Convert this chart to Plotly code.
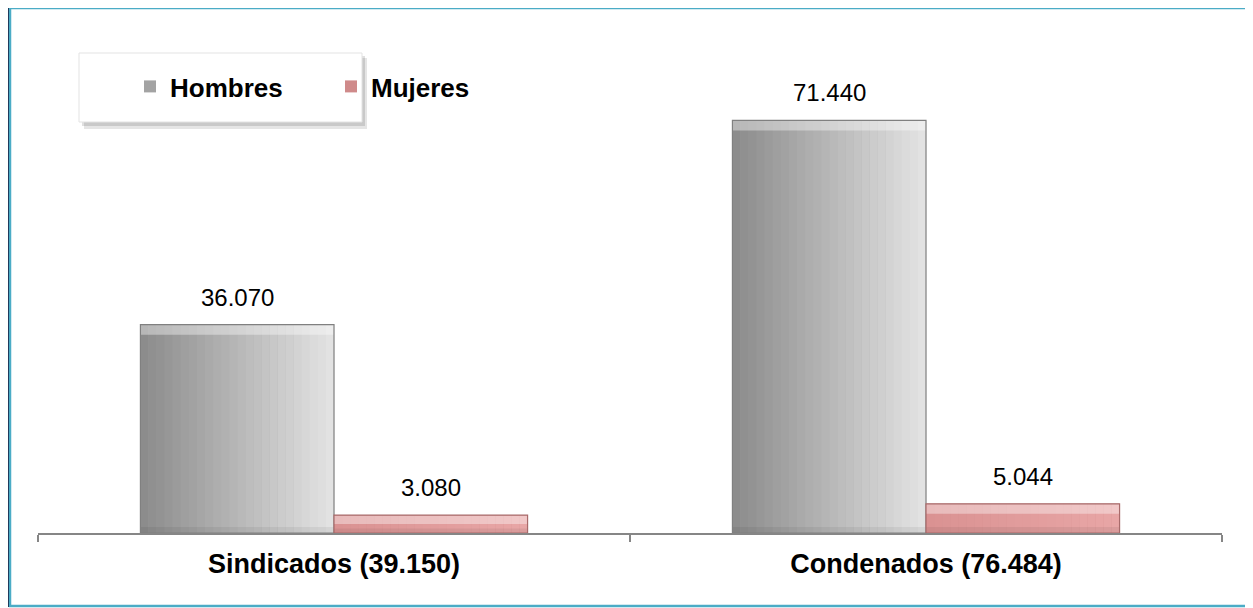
import plotly.graph_objects as go

categories = ["Sindicados (39.150)", "Condenados (76.484)"]
series_names = ["Hombres", "Mujeres"]
hombres = [36070, 71440]
mujeres = [3080, 5044]

# page body has an 8px margin: work in reference-pixel coordinates and shift
OFF = 8
W = 1253 - OFF
H = 608 - OFF
ML, MR, MT, MB = 38 - OFF, 31, 71 - OFF, 75
PW = W - ML - MR
PH = H - MT - MB
Y_MAX = 80000

BAR_W = 0.327
N_STRIPS = 24
FONT = "Arial, Liberation Sans, sans-serif"


def px_x(p):
    # p given in reference pixel coordinates
    return (p - OFF - ML) / PW


def px_y(p):
    return (H - MB - (p - OFF)) / PH


def px_to_units(n):
    return n / PH * Y_MAX


def lerp_color(c1, c2, t):
    a = [int(c1[i:i + 2], 16) for i in (1, 3, 5)]
    b = [int(c2[i:i + 2], 16) for i in (1, 3, 5)]
    c = [round(a[k] + (b[k] - a[k]) * t) for k in range(3)]
    return "rgb(%d,%d,%d)" % tuple(c)


def fmt(v):
    return f"{v:,}".replace(",", ".")


styles = [
    dict(name=series_names[0], values=hombres, base_off=-BAR_W, c_left="#8C8C8C", c_right="#E2E2E2",
         legend="#A3A3A3", outline="#808080"),
    dict(name=series_names[1], values=mujeres, base_off=0.0, c_left="#DA9292", c_right="#E8A6A6",
         legend="#CF8A8A", outline="#A86A6A"),
]

fig = go.Figure()

for s in styles:
    # full bar (legend + hover)
    fig.add_trace(go.Bar(
        x=categories, y=s["values"], name=s["name"],
        offset=s["base_off"], width=BAR_W,
        marker=dict(color=s["legend"], line=dict(width=0)),
        showlegend=True,
        hovertemplate="%{x}<br>" + s["name"] + ": %{y:,}<extra></extra>",
    ))
    # gradient strips
    sw = BAR_W / N_STRIPS
    for k in range(N_STRIPS):
        t = k / (N_STRIPS - 1)
        fig.add_trace(go.Bar(
            x=categories, y=s["values"], name=s["name"],
            offset=s["base_off"] + k * sw, width=sw * 1.03,
            marker=dict(color=lerp_color(s["c_left"], s["c_right"], t), line=dict(width=0)),
            showlegend=False, hoverinfo="skip",
        ))
    # bevel: light top band, darker bottom band
    band = px_to_units(10)
    top_h = [min(band, v / 2) for v in s["values"]]
    fig.add_trace(go.Bar(
        x=categories, y=top_h, base=[v - h for v, h in zip(s["values"], top_h)], name=s["name"],
        offset=s["base_off"], width=BAR_W,
        marker=dict(color="rgba(255,255,255,0.38)", line=dict(width=0)),
        showlegend=False, hoverinfo="skip",
    ))
    bot_h = [min(px_to_units(6), v / 4) for v in s["values"]]
    fig.add_trace(go.Bar(
        x=categories, y=bot_h, name=s["name"],
        offset=s["base_off"], width=BAR_W,
        marker=dict(color="rgba(0,0,0,0.06)", line=dict(width=0)),
        showlegend=False, hoverinfo="skip",
    ))
    # outline
    fig.add_trace(go.Bar(
        x=categories, y=s["values"], name=s["name"],
        offset=s["base_off"], width=BAR_W,
        marker=dict(color="rgba(0,0,0,0)", line=dict(width=1.2, color=s["outline"])),
        showlegend=False, hoverinfo="skip",
    ))

annotations = []
for s in styles:
    for i, v in enumerate(s["values"]):
        annotations.append(dict(
            x=i + s["base_off"] + BAR_W / 2, y=v, xref="x", yref="y",
            text=fmt(v), showarrow=False, yanchor="bottom", yshift=12,
            font=dict(family=FONT, size=24, color="#000000"),
        ))

shapes = [
    # legend shadow
    dict(type="rect", xref="paper", yref="paper",
         x0=px_x(84), x1=px_x(367), y0=px_y(129), y1=px_y(58),
         fillcolor="rgba(0,0,0,0.10)", line=dict(width=0), layer="above"),
    dict(type="rect", xref="paper", yref="paper",
         x0=px_x(82), x1=px_x(365), y0=px_y(126), y1=px_y(56),
         fillcolor="rgba(0,0,0,0.12)", line=dict(width=0), layer="above"),
    # legend box
    dict(type="rect", xref="paper", yref="paper",
         x0=px_x(79), x1=px_x(362), y0=px_y(122), y1=px_y(53),
         fillcolor="#FFFFFF", line=dict(width=1, color="#E3E3E3"), layer="above"),
    # outer border
    dict(type="rect", xref="paper", yref="paper",
         x0=px_x(10), x1=px_x(1250), y0=px_y(606), y1=px_y(8),
         fillcolor="rgba(0,0,0,0)", line=dict(width=2.5, color="#4BACC6"), layer="above"),
    dict(type="line", xref="paper", yref="paper",
         x0=px_x(8.5), x1=px_x(1251), y0=px_y(6.5), y1=px_y(6.5),
         line=dict(width=1, color="#1F3B5C"), layer="above"),
    dict(type="line", xref="paper", yref="paper",
         x0=px_x(8.5), x1=px_x(8.5), y0=px_y(6.5), y1=px_y(607),
         line=dict(width=1, color="#1F3B5C"), layer="above"),
]

fig.update_layout(
    width=W, height=H,
    margin=dict(l=ML, r=MR, t=MT, b=MB, pad=0),
    paper_bgcolor="#FFFFFF", plot_bgcolor="#FFFFFF",
    barmode="overlay",
    showlegend=True,
    legend=dict(
        orientation="h", x=px_x(130), y=px_y(63), xanchor="left", yanchor="top",
        bgcolor="rgba(0,0,0,0)", borderwidth=0,
        font=dict(family=FONT, size=26, color="#000000", weight="bold"),
        entrywidth=156, entrywidthmode="pixels",
        itemclick=False, itemdoubleclick=False,
    ),
    xaxis=dict(
        type="category", categoryorder="array", categoryarray=categories,
        range=[-0.5, 1.5], showline=True, linecolor="#868686", linewidth=1.5,
        ticks="outside", tickson="boundaries", ticklen=7, tickcolor="#868686", tickwidth=1.5,
        showgrid=False, zeroline=False, ticklabelstandoff=6,
        tickfont=dict(family=FONT, size=27, color="#000000", weight="bold"),
    ),
    yaxis=dict(range=[0, Y_MAX], visible=False, showgrid=False, zeroline=False),
    annotations=annotations,
    shapes=shapes,
)

fig.write_html("out.html")
